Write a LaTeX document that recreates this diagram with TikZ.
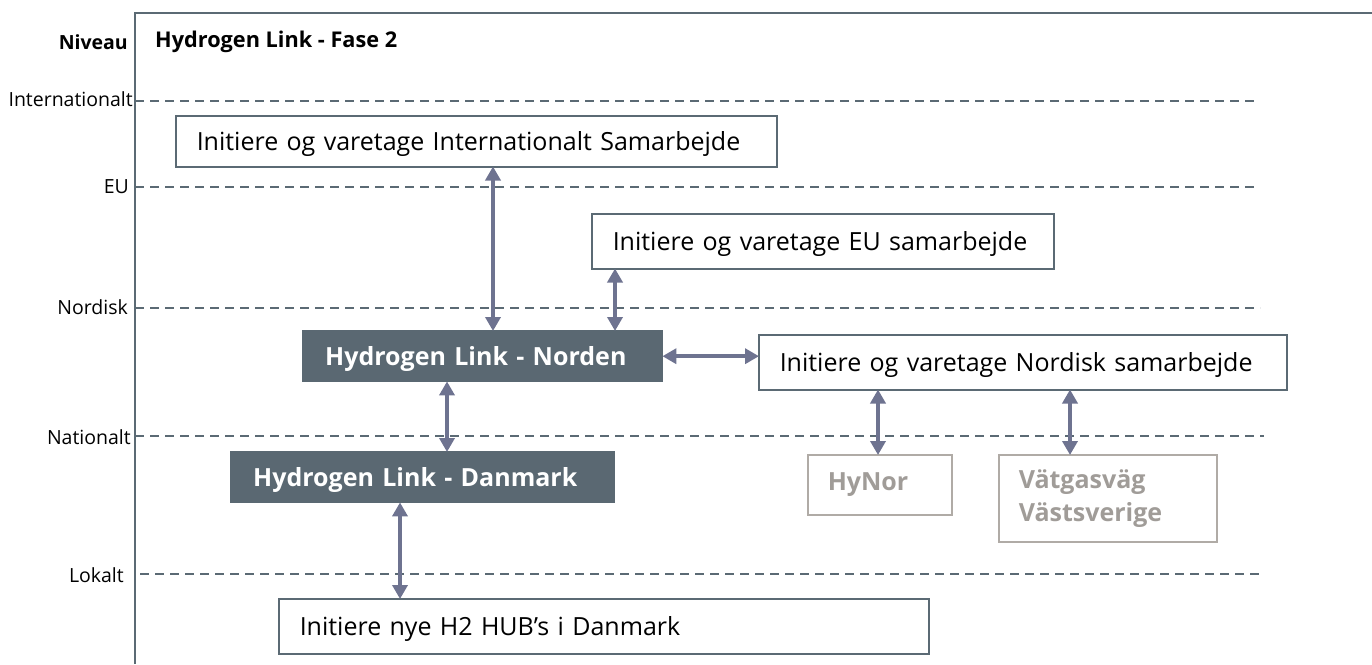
\documentclass[tikz,border=0pt]{standalone}
\usepackage{fontspec}
\setmainfont{Open Sans}
\usetikzlibrary{arrows.meta}
\definecolor{frame}{HTML}{5B6A74}
\definecolor{dark}{HTML}{5A6872}
\definecolor{arr}{HTML}{6E7390}
\definecolor{gbord}{HTML}{B0ABA6}
\definecolor{gtext}{HTML}{A09C98}
\tikzset{
  box/.style={draw=frame, line width=1.5pt, fill=white, inner xsep=21pt, inner ysep=0pt, align=left, font=\fontsize{25}{30}\selectfont, text height=18pt, text depth=0pt, anchor=north west},
  darkbox/.style={fill=dark, text=white, inner xsep=23pt, inner ysep=0pt, align=left, font=\bfseries\fontsize{25}{30}\selectfont, text height=18pt, text depth=0pt, anchor=north west},
  greybox/.style={draw=gbord, line width=1.5pt, text=gtext, inner xsep=20pt, inner ysep=0pt, align=left, font=\bfseries\fontsize{25}{33}\selectfont, anchor=north west},
  lvl/.style={dash pattern=on 9pt off 6pt, draw=frame, line width=1.3pt},
  lvltext/.style={anchor=east, inner sep=0pt, font=\fontsize{19.5}{23}\selectfont},
  dar/.style={{Triangle[width=15pt,length=14pt]}-{Triangle[width=15pt,length=14pt]}, draw=arr, fill=arr, line width=3.8pt, shorten <=-1pt, shorten >=-1pt},
}
\begin{document}
\begin{tikzpicture}[x=1pt,y=-1pt]
\useasboundingbox (0,0) rectangle (1372,664);
% frame
\coordinate (ftl) at (135,13);
\coordinate (fbl) at (135,664);
\coordinate (ftr) at (1372,13);
\draw[frame, line width=2pt] (fbl) -- (ftl) -- (ftr);
% title
\node[anchor=west, inner sep=0pt, font=\bfseries\fontsize{21.7}{26}\selectfont] (title) at (155,42) {Hydrogen Link - Fase 2};
\node[anchor=east, inner sep=0pt, font=\bfseries\fontsize{19.5}{23}\selectfont] (niveau) at (128,42) {Niveau};
% levels
\coordinate (lI) at (135,101); \coordinate (lIe) at (1257,101);
\coordinate (lE) at (135,187); \coordinate (lEe) at (1257,187);
\coordinate (lN) at (135,308); \coordinate (lNe) at (1260,308);
\coordinate (lA) at (135,436); \coordinate (lAe) at (1264,436);
\coordinate (lL) at (140,574); \coordinate (lLe) at (1264,574);
\draw[lvl] (lI) -- (lIe);
\draw[lvl] (lE) -- (lEe);
\draw[lvl] (lN) -- (lNe);
\draw[lvl] (lA) -- (lAe);
\draw[lvl] (lL) -- (lLe);
\node[lvltext] (tI) at (133,99) {Internationalt};
\node[lvltext] (tE) at (129,187) {EU};
\node[lvltext] (tN) at (128,307) {Nordisk};
\node[lvltext] (tA) at (131,437) {Nationalt};
\node[lvltext] (tL) at (124,575) {Lokalt};
% boxes
\node[box, text width=559pt, minimum height=51pt] (int) at (175,115) {Initiere og varetage Internationalt Samarbejde};
\node[box, text width=420pt, minimum height=55pt] (eu) at (591,213) {Initiere og varetage EU samarbejde};
\node[darkbox, text width=315pt, minimum height=52pt] (norden) at (302,330) {Hydrogen Link - Norden};
\node[box, text width=486pt, minimum height=55pt] (nordisk) at (758,334) {Initiere og varetage Nordisk samarbejde};
\node[darkbox, text width=339pt, minimum height=52pt] (dk) at (230,451) {Hydrogen Link - Danmark};
\node[greybox, text width=104pt, minimum height=60pt] (hynor) at (807,454) {HyNor};
\node[greybox, text width=178pt, minimum height=87pt] (vag) at (998,454) {Vätgasväg\\Västsverige};
\node[box, text width=608pt, minimum height=55pt] (h2) at (278,598) {Initiere nye H2 HUB’s i Danmark};
% arrow x positions
\coordinate (x1) at (493,0);
\coordinate (x2) at (615,0);
\coordinate (x3) at (447,0);
\coordinate (x4) at (878,0);
\coordinate (x5) at (1070,0);
\coordinate (x6) at (400,0);
\draw[dar] (int.south -| x1) -- (norden.north -| x1);
\draw[dar] (eu.south -| x2) -- (norden.north -| x2);
\draw[dar] (norden.east) -- (norden.east -| nordisk.west);
\draw[dar] (norden.south -| x3) -- (dk.north -| x3);
\draw[dar] (nordisk.south -| x4) -- (hynor.north -| x4);
\draw[dar] (nordisk.south -| x5) -- (vag.north -| x5);
\draw[dar] (dk.south -| x6) -- (h2.north -| x6);
\end{tikzpicture}
\end{document}
